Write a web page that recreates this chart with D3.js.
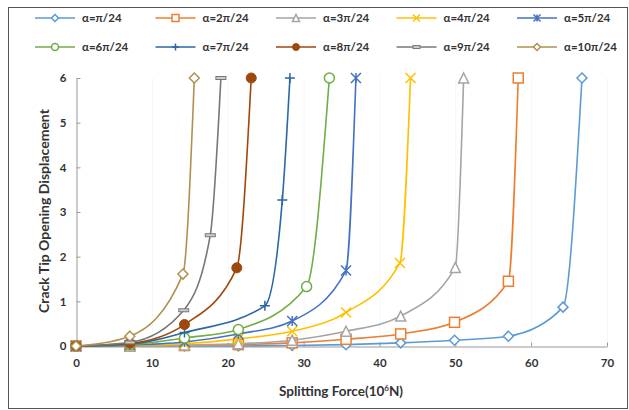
<!DOCTYPE html>
<html>
<head>
<meta charset="utf-8">
<script src="https://cdn.jsdelivr.net/npm/d3@7"></script>
<style>
body{margin:0;background:#fff;}
text{font-family:Lato,"Open Sans",sans-serif;font-weight:bold;fill:#333;}
</style>
</head>
<body>
<svg width="629" height="410"></svg>
<script>
// series names / colours / marker kinds
var names=["α=π/24","α=2π/24","α=3π/24","α=4π/24","α=5π/24","α=6π/24","α=7π/24","α=8π/24","α=9π/24","α=10π/24"];
var colors=["#5B9BD5","#ED7D31","#A5A5A5","#FFC000","#4472C4","#70AD47","#2B66A6","#9E480E","#777777","#B0914F"];
var shapes=["diamond","square","triangle","x","star","circle","plus","dot","dash","diamond"];

// splitting force (10^6 N) for each series
var xs1=[0,7.1,14.3,21.4,28.5,35.6,42.8,49.9,57.0,64.2,66.7];
var xs2=[0,7.1,14.3,21.4,28.5,35.6,42.8,49.9,57.0,58.3];
var xs3=[0,7.1,14.3,21.4,28.5,35.6,42.8,50.0,51.1];
var xs4=[0,7.1,14.3,21.4,28.5,35.6,42.7,44.1];
var xs5=[0,7.1,14.3,21.4,28.5,35.6,36.9];
var xs6=[0,7.1,14.3,21.4,30.4,33.4];
var xs7=[0,7.1,14.3,24.9,27.2,28.2];
var xs8=[0,7.1,14.3,21.2,23.1];
var xs9=[0,7.1,14.2,17.7,19.1];
var xs10=[0,7.1,14.1,15.6];

// crack tip opening displacement
var ys1=[0,0,0,0,0.01,0.03,0.07,0.13,0.22,0.87,6];
var ys2=[0,0,0.01,0.03,0.07,0.15,0.27,0.53,1.45,6];
var ys3=[0,0,0.02,0.05,0.13,0.33,0.67,1.76,6];
var ys4=[0,0.01,0.05,0.16,0.33,0.75,1.86,6];
var ys5=[0,0.02,0.09,0.27,0.56,1.69,6];
var ys6=[0,0.03,0.18,0.37,1.33,6];
var ys7=[0,0.04,0.3,0.9,3.27,6];
var ys8=[0,0.06,0.48,1.75,6];
var ys9=[0,0.08,0.8,2.48,6];
var ys10=[0,0.22,1.61,6];

var xTicks=[0,10,20,30,40,50,60,70];
var yTicks=[0,1,2,3,4,5,6];

var allX=[xs1,xs2,xs3,xs4,xs5,xs6,xs7,xs8,xs9,xs10];
var allY=[ys1,ys2,ys3,ys4,ys5,ys6,ys7,ys8,ys9,ys10];

var svg=d3.select("svg");

svg.append("rect")
.attr("x",8.5).attr("y",7.5)
.attr("width",619).attr("height",401)
.attr("fill","none").attr("stroke","#555").attr("stroke-width",1);

var x=d3.scaleLinear().domain([0,70]).range([76,607]);
var y=d3.scaleLinear().domain([0,6]).range([346,78]);

// faint vertical grid
svg.append("g").selectAll("line")
.data(xTicks.slice(1))
.enter().append("line")
.attr("x1",function(d){return x(d)+0.5;}).attr("x2",function(d){return x(d)+0.5;})
.attr("y1",y(6)).attr("y2",y(0))
.attr("stroke","#f6f6f6");

var gx=svg.append("g")
.attr("transform","translate(0,"+(y(0)+0.5)+")")
.call(d3.axisBottom(x).tickValues(xTicks).tickFormat(d3.format("d")).tickSizeInner(-4).tickSizeOuter(0).tickPadding(12));
var gy=svg.append("g")
.attr("transform","translate("+(x(0)+0.5)+",0)")
.call(d3.axisLeft(y).tickValues(yTicks).tickFormat(d3.format("d")).tickSizeInner(-4).tickSizeOuter(0).tickPadding(10));
[gx,gy].forEach(function(g){
  g.select(".domain").attr("stroke","#999");
  g.selectAll(".tick line").attr("stroke","#999");
  g.selectAll(".tick text").attr("font-size","11.5px").attr("fill","#333")
   .attr("font-family","Lato,sans-serif").attr("font-weight","bold");
});

svg.append("text")
.attr("transform","translate(49,211) rotate(-90)")
.attr("text-anchor","middle")
.attr("font-size","14px")
.text("Crack Tip Opening Displacement");

var xt=svg.append("text")
.attr("x",341).attr("y",396)
.attr("text-anchor","middle")
.attr("font-size","13.5px");
xt.append("tspan").text("Splitting Force(10");
xt.append("tspan").attr("font-size","8px").attr("dy",-5).text("6");
xt.append("tspan").attr("dy",5).text("N)");

function marker(g,kind,col,s){
  var h=s/2;
  if(kind=="diamond"){
    g.append("path").attr("d","M0,"+(-h)+"L"+h+",0L0,"+h+"L"+(-h)+",0Z")
    .attr("fill","#fff").attr("stroke",col).attr("stroke-width",1.5);
  } else if(kind=="square"){
    g.append("rect").attr("x",-h).attr("y",-h).attr("width",s).attr("height",s)
    .attr("fill","#fff").attr("stroke",col).attr("stroke-width",1.5);
  } else if(kind=="triangle"){
    g.append("path").attr("d","M0,"+(-h)+"L"+h+","+h+"L"+(-h)+","+h+"Z")
    .attr("fill","#fff").attr("stroke",col).attr("stroke-width",1.5);
  } else if(kind=="circle"){
    g.append("circle").attr("r",h)
    .attr("fill","#fff").attr("stroke",col).attr("stroke-width",1.5);
  } else if(kind=="dot"){
    g.append("circle").attr("r",h)
    .attr("fill",col).attr("stroke",col).attr("stroke-width",1);
  } else if(kind=="x"){
    g.append("path").attr("d","M"+(-h)+","+(-h)+"L"+h+","+h+"M"+h+","+(-h)+"L"+(-h)+","+h)
    .attr("stroke",col).attr("stroke-width",1.5);
  } else if(kind=="star"){
    g.append("path").attr("d","M"+(-h)+","+(-h)+"L"+h+","+h+"M"+h+","+(-h)+"L"+(-h)+","+h+"M0,"+(-h)+"L0,"+h)
    .attr("stroke",col).attr("stroke-width",1.5);
  } else if(kind=="plus"){
    g.append("path").attr("d","M"+(-h)+",0L"+h+",0M0,"+(-h)+"L0,"+h)
    .attr("stroke",col).attr("stroke-width",1.5);
  } else if(kind=="dash"){
    g.append("rect").attr("x",-h).attr("y",-1.5).attr("width",s).attr("height",3)
    .attr("fill","#ccc").attr("stroke",col).attr("stroke-width",1);
  }
}

var line=d3.line()
.x(function(d){return x(d[0]);})
.y(function(d){return y(d[1]);})
.curve(d3.curveMonotoneX);

allX.forEach(function(xs,i){
  var pts=xs.map(function(v,j){return [v,allY[i][j]];});
  var g=svg.append("g");
  g.append("path").datum(pts)
  .attr("d",line)
  .attr("fill","none").attr("stroke",colors[i]).attr("stroke-width",1.6);
  pts.forEach(function(p){
    var m=g.append("g").attr("transform","translate("+x(p[0])+","+y(p[1])+")");
    marker(m,shapes[i],colors[i],10);
  });
});

// legend
names.forEach(function(n,i){
  var c=i%5, r=Math.floor(i/5);
  var lx=35+120.5*c, ly=18+29*r;
  var g=svg.append("g");
  g.append("line").attr("x1",lx).attr("x2",lx+40).attr("y1",ly).attr("y2",ly)
  .attr("stroke",colors[i]).attr("stroke-width",1.6);
  var m=g.append("g").attr("transform","translate("+(lx+20)+","+ly+")");
  marker(m,shapes[i],colors[i],7);
  g.append("text").attr("x",lx+47).attr("y",ly+4)
  .attr("font-size","11.5px").text(n);
});
</script>
</body>
</html>
